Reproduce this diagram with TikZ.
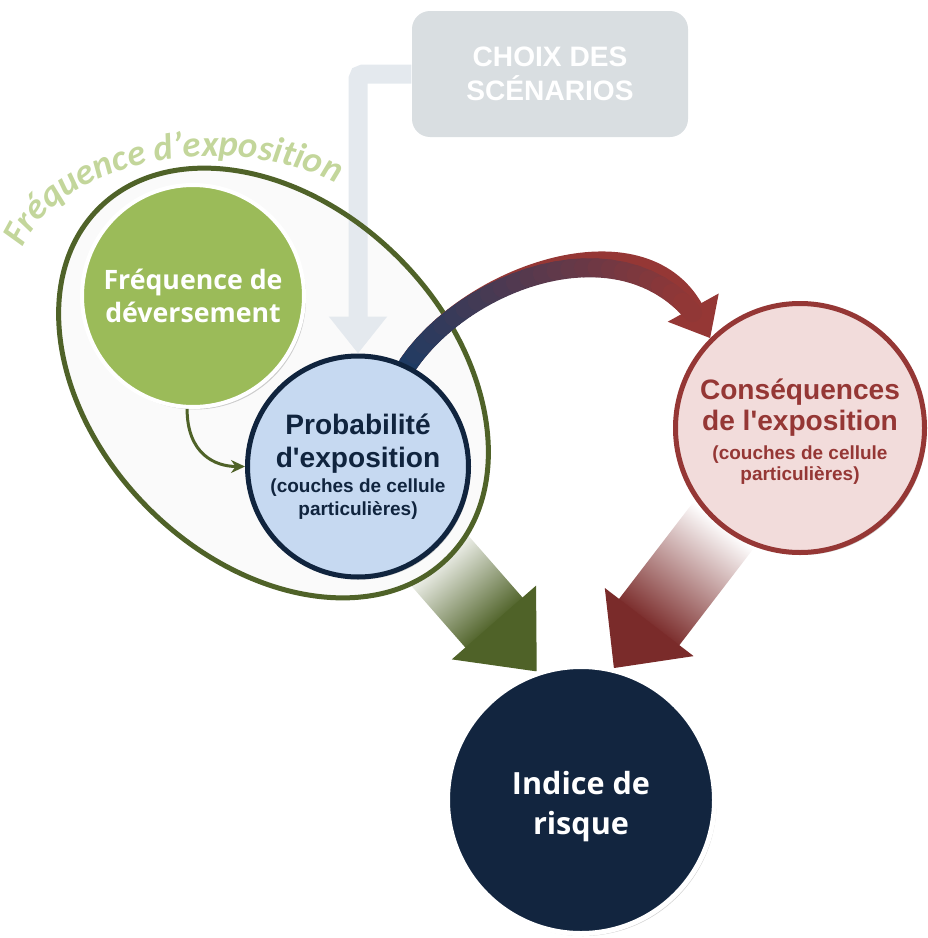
\documentclass[tikz,border=0pt]{standalone}
\usepackage{fontspec}
\setmainfont{Liberation Sans}
\newfontfamily\roundsans{Open Sans}
\newfontfamily\curvefont{Carlito}
\usetikzlibrary{arrows.meta,decorations.text,shadows}

\definecolor{freqgreen}{HTML}{9BBB59}
\definecolor{zoneolive}{HTML}{4F6228}
\definecolor{palegreen}{HTML}{C3D69B}
\definecolor{probblue}{HTML}{C6D9F1}
\definecolor{probnavy}{HTML}{10243E}
\definecolor{arcnavy}{HTML}{1F3B63}
\definecolor{consfill}{HTML}{F2DCDB}
\definecolor{consred}{HTML}{953735}
\definecolor{darkred}{HTML}{7A2B2A}
\definecolor{indicenavy}{HTML}{12253F}
\definecolor{choixgray}{HTML}{D9DEE1}
\definecolor{bandgray}{HTML}{E4E9EE}
\definecolor{zonefill}{HTML}{FAFAFA}

\pgfdeclarelayer{shafts}
\pgfdeclarelayer{zone}
\pgfsetlayers{shafts,zone,main}

\newcommand\smalltext{\fontsize{5.4}{9.4}\selectfont}
\newcommand\zoneoutline{[rotate around={-45:(2.735,-3.83)}] (2.735,-3.83) ellipse [x radius=2.47, y radius=1.77]}

\tikzset{
  bubble/.style={circle, inner sep=0pt, align=center,
    drop shadow={shadow xshift=0.02cm, shadow yshift=-0.025cm, opacity=0.18, fill=black}},
  bigtext/.style={font=\bfseries\fontsize{8}{9.4}\selectfont},
  choixbox/.style={rectangle, rounded corners=0.18cm, fill=choixgray, minimum width=2.76cm, minimum height=1.26cm, inner sep=0pt, align=center, text=white, font=\bfseries\fontsize{8}{9.7}\selectfont},
  band/.style={line width=0.19cm},
}

\begin{document}
\begin{tikzpicture}
\useasboundingbox (0,0) rectangle (9.28,-9.38);

% blocks
\node[choixbox] (choix) at (5.50,-0.74) {CHOIX DES\\SCÉNARIOS};
\node[bubble, fill=freqgreen, draw=white, line width=0.04cm, minimum size=2.22cm, text=white, font=\roundsans\bfseries\fontsize{7.6}{9.4}\selectfont] (freq) at (1.93,-2.96) {Fréquence de\\déversement};
\node[bubble, fill=probblue, draw=probnavy, line width=0.05cm, minimum size=2.21cm, text=probnavy, bigtext] (prob) at (3.58,-4.665)
  {Probabilité\\d\textquotesingle exposition\\[-2.3pt]\smalltext (couches de cellule\\[-2.9pt]\smalltext particulières)};
\node[bubble, fill=consfill, draw=consred, line width=0.05cm, minimum size=2.49cm, text=consred, bigtext] (cons) at (8.00,-4.28)
  {\rule{0pt}{8pt}Conséquences\\[-0.6pt]de l\textquotesingle exposition\\[-1.2pt]\smalltext (couches de cellule\\[-3.4pt]\smalltext particulières)};
\node[bubble, fill=indicenavy, draw=white, line width=0.05cm, minimum size=2.67cm, text=white, font=\roundsans\bfseries\fontsize{8.7}{11.4}\selectfont] (indice) at (5.81,-8.00) {\rule{0pt}{10.6pt}Indice de\\risque};

% wide arrows into the index
\begin{pgfonlayer}{shafts}
\begin{scope}[transform canvas={shift={(indice.109)}, rotate=-48.8}]
  \shade[left color=white, right color=zoneolive] (-1.57,-0.38) rectangle (-0.62,0.38);
  \fill[zoneolive] (0,0) -- (-0.65,0.56) -- (-0.65,-0.56) -- cycle;
\end{scope}
\begin{scope}[transform canvas={shift={(indice.76)}, rotate=-127.5}]
  \shade[left color=white, middle color=consred, right color=darkred] (-1.80,-0.38) rectangle (-0.55,0.38);
  \fill[darkred] (0,0) -- (-0.58,0.56) -- (-0.58,-0.56) -- cycle;
\end{scope}
\end{pgfonlayer}

\begin{pgfonlayer}{zone}
\fill[zonefill] \zoneoutline;
\draw[band, bandgray, rounded corners=0.05cm, -{Triangle[width=0.56cm,length=0.37cm]}] (choix.west) -| (prob.north);
\draw[zoneolive, line width=0.05cm] \zoneoutline;
% arc from probability to consequences
\draw[band, consred, -{Triangle[width=0.56cm,length=0.35cm]}] (prob.64) .. controls +(56:1.10) and +(119:1.42) .. (cons.135);
\foreach \i in {0,...,24}
  \path (prob.64) .. controls +(56:1.10) and +(119:1.42) .. (cons.135) coordinate[pos=\i/26] (arc\i);
\foreach \i [evaluate=\i as \j using int(\i+1), evaluate=\i as \k using int(100-4.2*\i)] in {0,...,23}
  \draw[band, line cap=round, draw=arcnavy!\k!consred] (arc\i) -- (arc\j);
\end{pgfonlayer}

\draw[zoneolive, line width=0.03cm, -{Stealth[length=0.14cm,width=0.13cm]}] (freq.-93) .. controls +(-90:0.45) and +(180:0.3) .. (prob.west);

\path[decorate, decoration={text along path, text={|\curvefont\bfseries\itshape\fontsize{10.4}{13}\selectfont|Fréquence d’exposition}, text color=palegreen, text align=center}]
  (2.13,-2.82) ++(170:1.98 and 1.26) arc[start angle=170, end angle=47, x radius=1.98, y radius=1.26];
\end{tikzpicture}
\end{document}
